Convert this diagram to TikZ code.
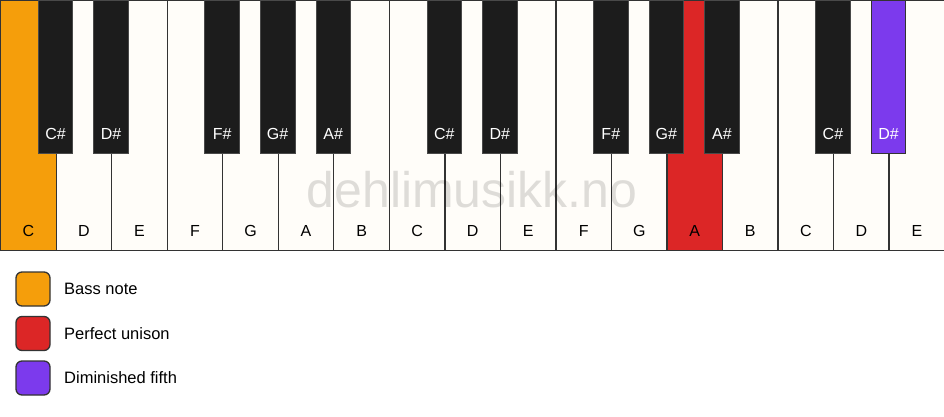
\documentclass[tikz,border=0pt]{standalone}
\usepackage{fontspec}
\setmainfont{Liberation Sans}
\usepackage{tikz}
\usetikzlibrary{positioning}
\definecolor{keyWhite}{HTML}{FFFDF9}
\definecolor{keyBlack}{HTML}{1C1C1C}
\definecolor{keyLine}{HTML}{333333}
\definecolor{bassOrange}{HTML}{F59E0B}
\definecolor{unisonRed}{HTML}{DC2626}
\definecolor{fifthPurple}{HTML}{7C3AED}
\tikzset{
	whitekey/.style={rectangle, fill=keyWhite, draw=keyLine, line width=1.3pt, minimum width=55.53pt, minimum height=250pt, anchor=north west, inner sep=0pt},
	blackkey/.style={rectangle, fill=keyBlack, draw=keyBlack!80, line width=0.8pt, minimum width=34.5pt, minimum height=153pt, anchor=north, inner sep=0pt},
	wlab/.style={anchor=center, yshift=20pt, font=\fontsize{16}{19}\selectfont, text=black},
	blab/.style={anchor=center, yshift=20pt, font=\fontsize{16}{19}\selectfont, text=white},
	legbox/.style={rectangle, rounded corners=6pt, draw=keyLine, line width=1.3pt, minimum size=34pt, inner sep=0pt},
	legtext/.style={anchor=west, font=\fontsize{16.5}{19}\selectfont, text=black}
}
\begin{document}
\begin{tikzpicture}[x=1pt, y=-1pt]
		\useasboundingbox (0,0) rectangle (944,417);

		\node[whitekey, fill=bassOrange, label={[wlab]south:C}](wC1) at (0,0){};
		\node[whitekey, label={[wlab]south:D}](wD1) at (55.53,0){};
		\node[whitekey, label={[wlab]south:E}](wE1) at (111.06,0){};
		\node[whitekey, label={[wlab]south:F}](wF1) at (166.59,0){};
		\node[whitekey, label={[wlab]south:G}](wG1) at (222.12,0){};
		\node[whitekey, label={[wlab]south:A}](wA1) at (277.65,0){};
		\node[whitekey, label={[wlab]south:B}](wB1) at (333.18,0){};
		\node[whitekey, label={[wlab]south:C}](wC2) at (388.71,0){};
		\node[whitekey, label={[wlab]south:D}](wD2) at (444.24,0){};
		\node[whitekey, label={[wlab]south:E}](wE2) at (499.76,0){};
		\node[whitekey, label={[wlab]south:F}](wF2) at (555.29,0){};
		\node[whitekey, label={[wlab]south:G}](wG2) at (610.82,0){};
		\node[whitekey, fill=unisonRed, label={[wlab]south:A}](wA2) at (666.35,0){};
		\node[whitekey, label={[wlab]south:B}](wB2) at (721.88,0){};
		\node[whitekey, label={[wlab]south:C}](wC3) at (777.41,0){};
		\node[whitekey, label={[wlab]south:D}](wD3) at (832.94,0){};
		\node[whitekey, label={[wlab]south:E}](wE3) at (888.47,0){};

		\node[text=black, text opacity=0.13, font=\fontsize{50}{56}\selectfont](mark) at (472,190){dehlimusikk.no};

		\node[blackkey, label={[blab]south:C\#}](bC1) at (55.53,0){};
		\node[blackkey, label={[blab]south:D\#}](bD1) at (111.06,0){};
		\node[blackkey, label={[blab]south:F\#}](bF1) at (222.12,0){};
		\node[blackkey, label={[blab]south:G\#}](bG1) at (277.65,0){};
		\node[blackkey, label={[blab]south:A\#}](bA1) at (333.18,0){};
		\node[blackkey, label={[blab]south:C\#}](bC2) at (444.24,0){};
		\node[blackkey, label={[blab]south:D\#}](bD2) at (499.76,0){};
		\node[blackkey, label={[blab]south:F\#}](bF2) at (610.82,0){};
		\node[blackkey, label={[blab]south:G\#}](bG2) at (666.35,0){};
		\node[blackkey, label={[blab]south:A\#}](bA2) at (721.88,0){};
		\node[blackkey, label={[blab]south:C\#}](bC3) at (832.94,0){};
		\node[blackkey, fill=fifthPurple, draw=keyLine, label={[blab]south:D\#}](bD3) at (888.47,0){};

		\node[legbox, fill=bassOrange](legBass) at (33,289){};
		\node[legbox, fill=unisonRed](legUnison) at (33,333.5){};
		\node[legbox, fill=fifthPurple](legFifth) at (33,378){};
		\node[legtext, right=10pt of legBass](txtBass){Bass note};
		\node[legtext, right=10pt of legUnison](txtUnison){Perfect unison};
		\node[legtext, right=10pt of legFifth](txtFifth){Diminished fifth};

	\end{tikzpicture}
\end{document}
